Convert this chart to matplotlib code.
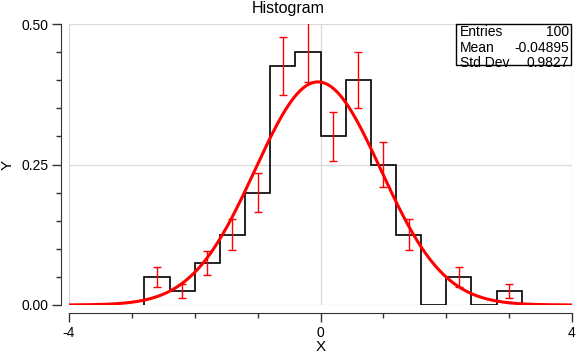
import matplotlib
matplotlib.use("Agg")
import matplotlib.pyplot as plt
import numpy as np
from matplotlib.patches import Rectangle

plt.rcParams['font.family'] = ['Liberation Sans', 'DejaVu Sans']

# Histogram data (normalized density, bin width 0.4)
bin_edges = [-2.8, -2.4, -2.0, -1.6, -1.2, -0.8, -0.4, 0.0, 0.4, 0.8, 1.2, 1.6, 2.0, 2.4, 2.8, 3.2]
bin_values = [0.05, 0.025, 0.075, 0.125, 0.2, 0.425, 0.45, 0.3, 0.4, 0.25, 0.125, 0.0, 0.05, 0.0, 0.025]
bin_errors = [0.0177, 0.0125, 0.0217, 0.028, 0.0354, 0.0515, 0.053, 0.0433, 0.05, 0.0395, 0.028, 0.0, 0.0177, 0.0, 0.0125]

# Gaussian fit parameters
fit_mean = -0.04
fit_sigma = 1.0
fit_amp = 0.397

stats_labels = ["Entries", "Mean", "Std Dev"]
stats_values = ["100", "-0.04895", "0.9827"]

fig = plt.figure(figsize=(5.76, 3.56), dpi=100)
ax = fig.add_axes([69/576, 1-305/356, (572-69)/576, (305-24)/356])

edges = np.array(bin_edges)
vals = np.array(bin_values)
errs = np.array(bin_errors)
centers = (edges[:-1] + edges[1:]) / 2

ax.stairs(vals, edges, baseline=0, fill=False, color='black', lw=1.2, zorder=3)

mask = vals > 0
ax.errorbar(centers[mask], vals[mask], yerr=errs[mask], fmt='none', ecolor='red',
            elinewidth=1.0, capsize=3, capthick=1.0, zorder=4)

xs = np.linspace(-4, 4, 400)
ys = fit_amp * np.exp(-0.5 * ((xs - fit_mean) / fit_sigma) ** 2)
ax.plot(xs, ys, color='red', lw=2.2, zorder=5, solid_capstyle='butt')

ax.set_xlim(-4, 4)
ax.set_ylim(0, 0.5)
ax.set_xticks([-4, 0, 4])
ax.set_xticklabels(["-4", "0", "4"])
ax.set_xticks([-3, -2, -1, 1, 2, 3], minor=True)
ax.set_yticks([0, 0.25, 0.5])
ax.set_yticklabels(["0.00", "0.25", "0.50"])
ax.set_yticks(np.arange(0.05, 0.5, 0.05), minor=True)

ax.grid(True, which='major', color='#d9d9d9', lw=0.9, zorder=0)
for gl in ax.get_xgridlines() + ax.get_ygridlines():
    gl.set_clip_on(False)
ax.set_axisbelow(True)

for s in ['top', 'right']:
    ax.spines[s].set_visible(False)
ax.spines['left'].set_position(('outward', 5.8))
ax.spines['bottom'].set_position(('outward', 5.8))
ax.spines['left'].set_color('#333333')
ax.spines['bottom'].set_color('#333333')
ax.tick_params(which='major', length=6.5, width=1, color='#333333', labelsize=10, pad=2.5)
ax.tick_params(which='minor', length=3.5, width=1, color='#333333')

fig.text(0.5, 1 - 8/356, "Histogram", ha='center', va='center', fontsize=11.5)
ax.set_xlabel("X", fontsize=11, labelpad=0)
ax.set_ylabel("Y", fontsize=11, labelpad=5)

# Stats box
bx0, bx1 = (456-69)/503, (571-69)/503
by0, by1 = (305-65)/281, 1.0
ax.add_patch(Rectangle((bx0, by0), bx1-bx0, by1-by0, transform=ax.transAxes,
                       facecolor='white', edgecolor='black', lw=1, zorder=6, clip_on=False))
row_px = [32, 48, 63]
for lab, val, ypx in zip(stats_labels, stats_values, row_px):
    yc = (305 - ypx) / 281
    ax.text(bx0 + 0.007, yc, lab, transform=ax.transAxes, ha='left', va='center', fontsize=10, zorder=7)
    ax.text(bx1 - 0.004, yc, val, transform=ax.transAxes, ha='right', va='center', fontsize=10, zorder=7)

fig.savefig("out.png", dpi=100)
